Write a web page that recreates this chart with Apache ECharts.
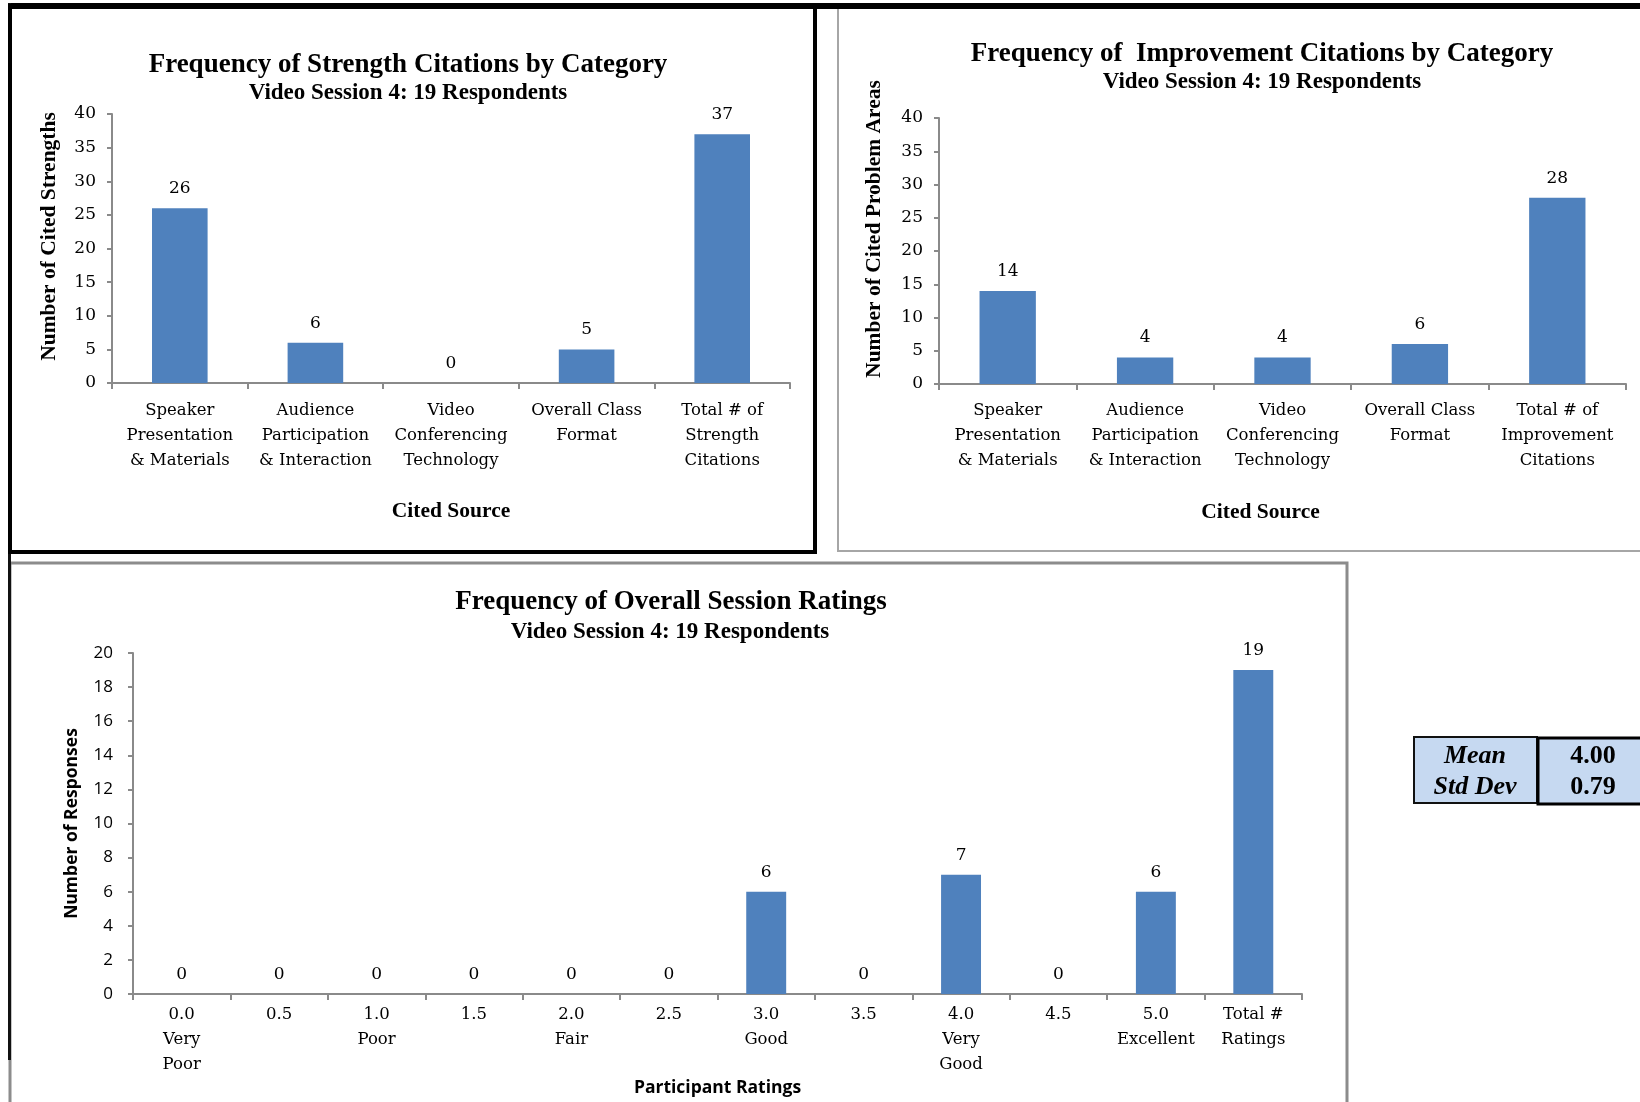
<!DOCTYPE html>
<html>
<head>
<meta charset="utf-8">
<title>Video Session 4 – Feedback Summary</title>
<script src="https://cdn.jsdelivr.net/npm/echarts@6/dist/echarts.min.js"></script>
<style>
  html, body { margin: 0; padding: 0; background: #ffffff; }
  #chart { width: 1640px; height: 1102px; }
</style>
</head>
<body>
<div id="chart"></div>
<script>
// ---- data ----
const strengthCategories = [
  'Speaker\nPresentation\n& Materials',
  'Audience\nParticipation\n& Interaction',
  'Video\nConferencing\nTechnology',
  'Overall Class\nFormat',
  'Total # of\nStrength\nCitations'
];
const strengthCounts = [26, 6, 0, 5, 37];

const improvementCategories = [
  'Speaker\nPresentation\n& Materials',
  'Audience\nParticipation\n& Interaction',
  'Video\nConferencing\nTechnology',
  'Overall Class\nFormat',
  'Total # of\nImprovement\nCitations'
];
const improvementCounts = [14, 4, 4, 6, 28];

const ratingCategories = [
  '0.0\nVery\nPoor', '0.5', '1.0\nPoor', '1.5', '2.0\nFair', '2.5',
  '3.0\nGood', '3.5', '4.0\nVery\nGood', '4.5', '5.0\nExcellent', 'Total #\nRatings'
];
const ratingCounts = [0, 0, 0, 0, 0, 0, 6, 0, 7, 0, 6, 19];

const statLabels = ['Mean', 'Std Dev'];
const statValues = ['4.00', '0.79'];

const subtitleText = 'Video Session 4: 19 Respondents';

// ---- styling ----
const BAR = '#4f81bd';
const AXIS = '#8a8a8a';
const SERIF = '"Liberation Serif", "Times New Roman", serif';
const BOOK = '"DejaVu Serif", "Liberation Serif", serif';
const SANS = '"Open Sans", Lato, "Liberation Sans", sans-serif';

function catAxis(gridIndex, data, name, nameGap, labelMargin, nameFont, nameSize, namePad) {
  return {
    type: 'category', gridIndex, data,
    name, nameLocation: 'middle', nameGap,
    nameTextStyle: { fontFamily: nameFont, fontWeight: 'bold', fontSize: nameSize, color: '#000', padding: namePad || 0 },
    axisLine: { lineStyle: { color: AXIS, width: 2 } },
    axisTick: { show: true, length: 6, lineStyle: { color: AXIS, width: 2 } },
    axisLabel: { interval: 0, margin: labelMargin, fontFamily: BOOK, fontSize: 16.5, lineHeight: 25, color: '#000' },
    splitLine: { show: false }
  };
}

function valAxis(gridIndex, max, interval, name, nameGap, namePad, nameFont, nameSize, labelFont, labelMargin) {
  return {
    type: 'value', gridIndex, min: 0, max, interval,
    name, nameLocation: 'middle', nameGap,
    nameTextStyle: { fontFamily: nameFont, fontWeight: 'bold', fontSize: nameSize, color: '#000', padding: namePad },
    axisLine: { show: true, lineStyle: { color: AXIS, width: 2 } },
    axisTick: { show: true, length: 5, lineStyle: { color: AXIS, width: 2 } },
    axisLabel: { margin: labelMargin, fontFamily: labelFont, fontSize: 17, color: '#000' },
    splitLine: { show: false }
  };
}

function barSeries(idx, data, width, labelFont) {
  return {
    type: 'bar', xAxisIndex: idx, yAxisIndex: idx, data,
    barWidth: width,
    itemStyle: { color: BAR },
    label: {
      show: true, position: 'top', distance: 11,
      fontFamily: labelFont, fontSize: 17, color: '#000'
    },
    silent: true
  };
}

function txt(x, y, text, font, size, weight, style) {
  return {
    type: 'text', x, y, silent: true,
    style: {
      text, fontFamily: font, fontSize: size, fontWeight: weight || 'normal',
      fontStyle: style || 'normal', fill: '#000', align: 'center', verticalAlign: 'middle'
    }
  };
}

const chart = echarts.init(document.getElementById('chart'), null, { renderer: 'canvas' });

const option = {
  backgroundColor: '#ffffff',
  animation: false,
  grid: [
    { left: 112, top: 114, width: 678, height: 269 },
    { left: 939, top: 118, width: 687, height: 266 },
    { left: 133, top: 653, width: 1169, height: 341 }
  ],
  xAxis: [
    catAxis(0, strengthCategories, 'Cited Source', 117, 15, SERIF, 21.5),
    catAxis(1, improvementCategories, 'Cited Source', 117, 14, SERIF, 21.5, [0, 44, 0, 0]),
    catAxis(2, ratingCategories, 'Participant Ratings', 85, 8, SANS, 17.5)
  ],
  yAxis: [
    valAxis(0, 40, 5, 'Number of Cited Strengths', 52, [0, 0, 0, 24], SERIF, 21.5, BOOK, 16),
    valAxis(1, 40, 5, 'Number of Cited Problem Areas', 54, [0, 0, 0, 44], SERIF, 21.5, BOOK, 16),
    valAxis(2, 20, 2, 'Number of Responses', 52, 0, SANS, 17.5, SANS, 20)
  ],
  series: [
    barSeries(0, strengthCounts, '41%', BOOK),
    barSeries(1, improvementCounts, '41%', BOOK),
    barSeries(2, ratingCounts, '41%', BOOK)
  ],
  graphic: [
    // panel frames
    { type: 'rect', silent: true, shape: { x: 838, y: 7, width: 820, height: 544 },
      style: { fill: 'none', stroke: '#a6a6a6', lineWidth: 2 } },
    { type: 'rect', silent: true, shape: { x: 10, y: 563, width: 1337, height: 600 },
      style: { fill: 'none', stroke: '#8c8c8c', lineWidth: 3 } },
    { type: 'line', silent: true, shape: { x1: 8, y1: 6, x2: 1640, y2: 6 },
      style: { stroke: '#000', lineWidth: 6 } },
    { type: 'line', silent: true, shape: { x1: 9.5, y1: 3, x2: 9.5, y2: 1060 },
      style: { stroke: '#111', lineWidth: 3 } },
    { type: 'rect', silent: true, shape: { x: 10, y: 6, width: 805, height: 546 },
      style: { fill: 'none', stroke: '#000', lineWidth: 4 } },

    // titles
    txt(408, 65, 'Frequency of Strength Citations by Category', SERIF, 27, 'bold'),
    txt(408, 93, subtitleText, SERIF, 23, 'bold'),
    txt(1262, 54, 'Frequency of  Improvement Citations by Category', SERIF, 27, 'bold'),
    txt(1262, 82, subtitleText, SERIF, 23, 'bold'),
    txt(671, 602, 'Frequency of Overall Session Ratings', SERIF, 27, 'bold'),
    txt(670, 632, subtitleText, SERIF, 23, 'bold'),

    // summary statistics box
    { type: 'rect', silent: true, shape: { x: 1414, y: 737, width: 123, height: 66 },
      style: { fill: '#c6d9f1', stroke: '#111', lineWidth: 2 } },
    { type: 'rect', silent: true, shape: { x: 1538, y: 738, width: 120, height: 66 },
      style: { fill: '#c6d9f1', stroke: '#000', lineWidth: 3 } },
    txt(1475, 756, statLabels[0], SERIF, 26, 'bold', 'italic'),
    txt(1475, 787, statLabels[1], SERIF, 26, 'bold', 'italic'),
    txt(1593, 756, statValues[0], SERIF, 26, 'bold'),
    txt(1593, 787, statValues[1], SERIF, 26, 'bold')
  ]
};

chart.setOption(option);
</script>
</body>
</html>
